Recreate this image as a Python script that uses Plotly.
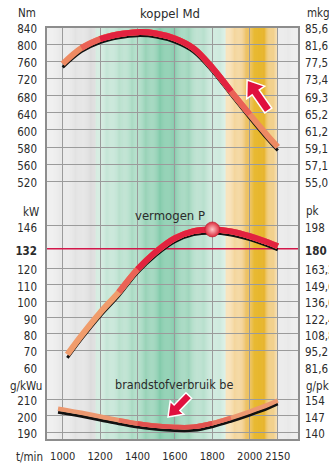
import numpy as np
import plotly.graph_objects as go

# ---- curve data (engine speed in t/min) ----
rpm_torque = [1000, 1100, 1200, 1300, 1400, 1500, 1600, 1700, 1800, 1900, 2000, 2100, 2150]
torque_nm = [754, 791, 812, 823, 828, 825, 813, 790, 745, 690, 636, 584, 560]

rpm_power = [1025, 1100, 1200, 1300, 1400, 1500, 1600, 1700, 1800, 1900, 2000, 2100, 2150]
power_kw = [67.5, 79, 93, 105.5, 119.5, 130.3, 138.5, 142.8, 143.8, 142.6, 139.7, 135.8, 133.5]

rpm_fuel = [975, 1000, 1100, 1200, 1300, 1400, 1500, 1600, 1700, 1800, 1900, 2000, 2100, 2150]
fuel_gkwh = [204.3, 203.8, 201.8, 199.6, 197.3, 195.3, 193.9, 193.2, 193.3, 195.5, 198.8, 202.6, 206.8, 209.3]

rated_power_kw = 132

# ---- axis ticks ----
rpm_ticks = [1000, 1200, 1400, 1600, 1800, 2000, 2150]
rpm_ticktext = ["1000", "1200", "1400", "1600", "1800", "2000", "2150"]

torque_ticks = [840, 800, 760, 720, 680, 640, 600, 560, 520, 480]
torque_ticktext = ["840", "800", "760", "720", "680", "640", "600", "580", "560", "520"]
mkg_ticktext = ["85,6", "81,6", "77,5", "73,4", "69,3", "65,2", "61,2", "59,1", "57,1", "55,0"]

power_ticks = [146, 132, 120, 110, 100, 90, 80, 70, 60]
power_ticktext = ["146", "<b>132</b>", "120", "110", "100", "90", "80", "70", "60"]
pk_ticktext = ["198", "<b>180</b>", "163,2", "149,6", "136,0", "122,4", "108,8", "95,2", "81,6"]

fuel_ticks = [210, 200, 190]
fuel_ticktext = ["210", "200", "190"]
gpkh_ticktext = ["154", "147", "140"]

# ---- layout constants ----
W, H = 329, 468
M_L, M_R, M_T, M_B = 46, 30, 27, 28
X_RANGE = [910.7, 2263.6]
TORQUE_RANGE = [440, 840]
POWER_RANGE = [60, 162.7]
FUEL_RANGE = [185.3, 229.8]
DOM_TORQUE = [0.5848, 1.0]
DOM_POWER = [0.1774, 0.5848]
DOM_FUEL = [0.0, 0.1774]

FONT = "DejaVu Sans Condensed, Liberation Sans Narrow, Arial Narrow, sans-serif"
TXT = "#2b2b2b"
GRID = "#9b9b9b"
ORANGE = "#f09c6c"
MID = "#ea6256"
RED = "#e2223f"

plot_h = H - M_T - M_B


def px_to(axis_range, dom, px):
    """Convert a vertical pixel distance into data units of one panel."""
    span = axis_range[1] - axis_range[0]
    return px * span / ((dom[1] - dom[0]) * plot_h)


fig = go.Figure()

# ---- background colour bands ----
bg_stops = [
    (910, "#efefef"), (1176, "#dcdcdc"),
    (1177, "#d2ebdf"), (1400, "#a6d9c1"), (1560, "#7cc8a6"), (1720, "#b2ddc9"), (1871, "#d7eee4"),
    (1872, "#f8e1b6"), (1960, "#f2cd88"), (2005, "#eab945"), (2025, "#e2a800"),
    (2062, "#e2a800"), (2100, "#eec368"), (2149, "#f6dcab"),
    (2150, "#e8e8e8"), (2264, "#ebebeb"),
]


def hex_rgb(h):
    h = h.lstrip("#")
    return np.array([int(h[i:i + 2], 16) for i in (0, 2, 4)], dtype=float)


shapes = []
for (r0, c0), (r1, c1) in zip(bg_stops[:-1], bg_stops[1:]):
    n = max(1, int(round((r1 - r0) / 5)))
    edges = np.linspace(r0, r1, n + 1)
    a, b = hex_rgb(c0), hex_rgb(c1)
    for i in range(n):
        t = (i + 0.5) / n
        c = a + (b - a) * t
        shapes.append(dict(type="rect", xref="x", yref="paper", x0=edges[i], x1=edges[i + 1] + 0.6,
                           y0=0, y1=1, layer="below", line=dict(width=0),
                           fillcolor="rgb(%d,%d,%d)" % tuple(c)))

# plot frame
shapes.append(dict(type="rect", xref="paper", yref="paper", x0=0, x1=1, y0=0, y1=1,
                   line=dict(color="#8d8d8d", width=2), fillcolor="rgba(0,0,0,0)", layer="above"))


def arrow_path(length, head_len, head_half, shaft_half, angle_deg):
    pts = np.array([[0, 0], [-head_len, head_half], [-head_len, shaft_half], [-length, shaft_half],
                    [-length, -shaft_half], [-head_len, -shaft_half], [-head_len, -head_half]], float)
    a = np.deg2rad(angle_deg)
    rot = np.array([[np.cos(a), -np.sin(a)], [np.sin(a), np.cos(a)]])
    p = pts @ rot.T
    return "M " + " L ".join("%.2f,%.2f" % (x, y) for x, y in p) + " Z"


# red direction arrows (pixel-sized, anchored in data space)
shapes.append(dict(type="path", xref="x", yref="y", xsizemode="pixel", ysizemode="pixel",
                   xanchor=1986, yanchor=716, path=arrow_path(37, 15, 11, 4.3, 125),
                   fillcolor="#e0103e", line=dict(color="white", width=1.5), layer="above"))
shapes.append(dict(type="path", xref="x", yref="y3", xsizemode="pixel", ysizemode="pixel",
                   xanchor=1563, yanchor=199.2, path=arrow_path(30, 13, 9.5, 4, 226),
                   fillcolor="#e0103e", line=dict(color="white", width=1.5), layer="above"))

# rated power reference line across the full width
fig.add_trace(go.Scatter(x=X_RANGE, y=[rated_power_kw, rated_power_kw], yaxis="y2", mode="lines",
                         line=dict(color="#d3174a", width=1.5), hoverinfo="skip"))


def add_curve(xs, ys, yaxis, axis_range, dom, width, layers):
    # dark drop line slightly below the coloured band
    off = px_to(axis_range, dom, 3.5)
    fig.add_trace(go.Scatter(x=xs, y=[v - off for v in ys], yaxis=yaxis, mode="lines",
                             line=dict(color="#111111", width=3, shape="spline"), hoverinfo="skip"))
    for lo, hi, col in layers:
        fig.add_trace(go.Scatter(x=xs[lo:hi], y=ys[lo:hi], yaxis=yaxis, mode="lines",
                                 line=dict(color=col, width=width, shape="spline"), hoverinfo="skip"))


n_t = len(rpm_torque)
add_curve(rpm_torque, torque_nm, "y", TORQUE_RANGE, DOM_TORQUE, 6,
          [(0, n_t, "#ee8a62"), (1, n_t - 2, MID), (2, n_t - 3, RED)])
n_p = len(rpm_power)
add_curve(rpm_power, power_kw, "y2", POWER_RANGE, DOM_POWER, 6,
          [(0, n_p, ORANGE), (3, n_p, MID), (4, n_p, RED)])
n_f = len(rpm_fuel)
add_curve(rpm_fuel, fuel_gkwh, "y3", FUEL_RANGE, DOM_FUEL, 4.5,
          [(0, n_f, "#ec9870"), (4, n_f - 3, "#e8705e"), (5, n_f - 4, "#e0504e")])

# ball at peak power
i_max = int(np.argmax(power_kw))
fig.add_trace(go.Scatter(x=[rpm_power[i_max]], y=[power_kw[i_max]], yaxis="y2", mode="markers",
                         marker=dict(size=15, color="#dc2a3c",
                                     gradient=dict(type="radial", color="#ffc8c8"),
                                     line=dict(color="#b81c30", width=0.6)),
                         hoverinfo="skip"))

# empty traces so the secondary (right-hand) unit axes are rendered
for ax in ("y4", "y5", "y6"):
    fig.add_trace(go.Scatter(x=[None], y=[None], yaxis=ax, mode="lines", hoverinfo="skip"))

tickfont = dict(family=FONT, size=11.5, color=TXT)
common_y = dict(showgrid=True, gridcolor=GRID, gridwidth=1, zeroline=False, showline=False,
                ticks="", tickfont=tickfont, ticklabelstandoff=8, ticklabelshift=2,
                fixedrange=True, automargin=False)
right_y = dict(showgrid=False, zeroline=False, showline=False, ticks="", tickfont=tickfont,
               side="right", ticklabelstandoff=5, ticklabelshift=2, fixedrange=True, automargin=False)

annotations = []


def note(text, x, y, xref, yref, **kw):
    annotations.append(dict(text=text, x=x, y=y, xref=xref, yref=yref, showarrow=False,
                            yanchor="middle",
                            font=dict(family=FONT, size=kw.pop("size", 11.5), color=TXT), **kw))


def py(ypx):
    return (H - M_B - ypx) / plot_h


note("koppel Md", 1575, py(13), "x", "paper", size=13)
note("vermogen P", 1572, 152.5, "x", "y2", size=13)
note("brandstofverbruik be", 1594, 219.2, "x", "y3", size=12.5)
note("Nm", 0, py(13), "paper", "paper", xanchor="right", xshift=-8)
note("kW", 0, py(212), "paper", "paper", xanchor="right", xshift=-5)
note("g/kWu", 0, py(385.7), "paper", "paper", xanchor="right", xshift=-2)
note("t/min", 0, py(457.3), "paper", "paper", xanchor="right", xshift=-1)
note("mkg", 1, py(13), "paper", "paper", xanchor="left", xshift=6)
note("pk", 1, py(211), "paper", "paper", xanchor="left", xshift=5)
note("g/pkh", 1, py(385.7), "paper", "paper", xanchor="left", xshift=5)

fig.update_layout(
    width=W, height=H, margin=dict(l=M_L, r=M_R, t=M_T, b=M_B, autoexpand=False),
    paper_bgcolor="white", plot_bgcolor="rgba(0,0,0,0)", showlegend=False,
    font=dict(family=FONT, color=TXT),
    shapes=shapes, annotations=annotations,
    xaxis=dict(range=X_RANGE, domain=[0, 1], anchor="y3", tickvals=rpm_ticks, ticktext=rpm_ticktext,
               showgrid=True, gridcolor=GRID, gridwidth=1, zeroline=False, showline=False, ticks="",
               tickangle=0, tickfont=dict(family=FONT, size=11, color=TXT), ticklabelstandoff=8,
               fixedrange=True, automargin=False),
    yaxis=dict(range=TORQUE_RANGE, domain=DOM_TORQUE, anchor="x", tickvals=torque_ticks,
               ticktext=torque_ticktext, **common_y),
    yaxis2=dict(range=POWER_RANGE, domain=DOM_POWER, anchor="x", tickvals=power_ticks,
                ticktext=power_ticktext, **common_y),
    yaxis3=dict(range=FUEL_RANGE, domain=DOM_FUEL, anchor="x", tickvals=fuel_ticks,
                ticktext=fuel_ticktext, **common_y),
    yaxis4=dict(range=TORQUE_RANGE, overlaying="y", anchor="x", tickvals=torque_ticks,
                ticktext=mkg_ticktext, **right_y),
    yaxis5=dict(range=POWER_RANGE, overlaying="y2", anchor="x", tickvals=power_ticks,
                ticktext=pk_ticktext, **right_y),
    yaxis6=dict(range=FUEL_RANGE, overlaying="y3", anchor="x", tickvals=fuel_ticks,
                ticktext=gpkh_ticktext, **right_y),
)

fig.write_html("out.html", config={"displayModeBar": False})
